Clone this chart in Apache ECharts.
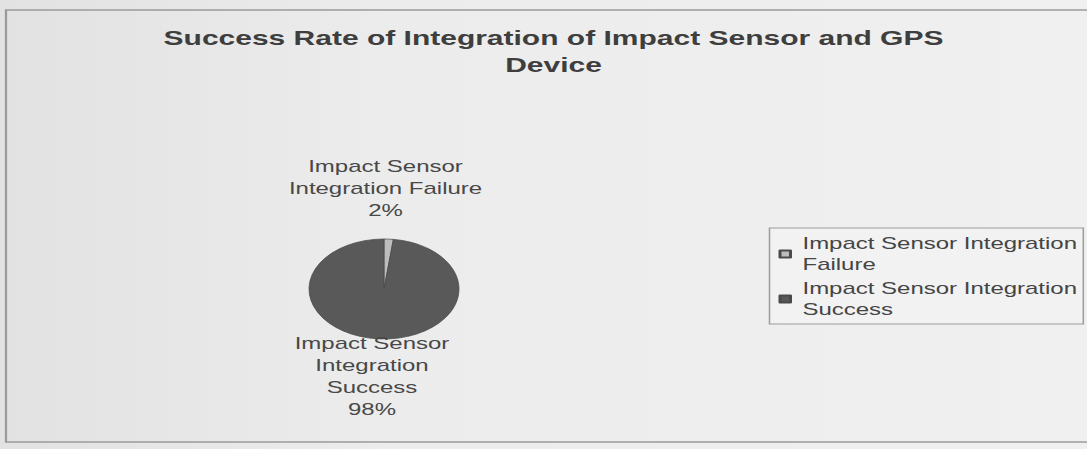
<!DOCTYPE html>
<html>
<head>
<meta charset="utf-8">
<script src="https://cdn.jsdelivr.net/npm/echarts@6/dist/echarts.min.js"></script>
<style>
html, body { margin: 0; padding: 0; overflow: hidden; background: #eeeeee; }
/* the scan is stretched sideways, so the chart is drawn narrow and widened */
#chart { width: 725px; height: 449px; transform: scaleX(1.5); transform-origin: 0 0; }
</style>
</head>
<body>
<div id="chart"></div>
<script>
const categories = ['Impact Sensor Integration Failure', 'Impact Sensor Integration Success']
const shares = [2, 98]
const labelNames = ['Impact Sensor\nIntegration Failure', 'Impact Sensor\nIntegration\nSuccess']
const legendNames = ['Impact Sensor Integration\nFailure', 'Impact Sensor Integration\nSuccess']

const cx = 256
const cy = 289
const r = 50

const chart = echarts.init(document.getElementById('chart'), null, { renderer: 'svg' })

const option = {
  backgroundColor: {
    type: 'linear', x: 0, y: 0, x2: 1, y2: 0,
    colorStops: [{ offset: 0, color: '#e2e2e2' }, { offset: 0.35, color: '#ececec' }, { offset: 1, color: '#f0f0f0' }]
  },
  color: ['#bdbdbd', '#595959'],
  title: {
    text: 'Success Rate of Integration of Impact Sensor and GPS\nDevice',
    left: 364,
    top: 19,
    textAlign: 'center',
    textStyle: {
      fontFamily: 'Liberation Sans',
      fontWeight: 'bold',
      fontSize: 20,
      lineHeight: 27,
      color: '#3e3e3e'
    }
  },
  graphic: [{
    type: 'rect',
    shape: { x: 4, y: 10, width: 760, height: 432 },
    style: { fill: 'none', stroke: '#9a9a9a', lineWidth: 1.5 },
    silent: true
  }],
  legend: {
    orient: 'vertical',
    left: 513,
    top: 228,
    width: 204,
    padding: [5, 4, 4, 6],
    itemGap: 3,
    itemWidth: 7,
    itemHeight: 7,
    icon: 'rect',
    borderColor: '#9c9c9c',
    borderWidth: 1,
    backgroundColor: '#f2f2f2',
    formatter: name => legendNames[categories.indexOf(name)],
    textStyle: {
      fontFamily: 'Liberation Sans',
      fontSize: 16,
      lineHeight: 21,
      color: '#454545',
      padding: [0, 0, 0, 3]
    },
    data: categories
  },
  series: [{
    type: 'pie',
    center: [cx, cy],
    radius: r,
    startAngle: 90,
    clockwise: true,
    silent: true,
    itemStyle: { borderColor: '#4a4a4a', borderWidth: 0.6 },
    label: {
      show: true,
      position: 'outside',
      formatter: p => labelNames[p.dataIndex] + '\n' + p.value + '%',
      fontFamily: 'Liberation Sans',
      fontSize: 16,
      lineHeight: 22,
      color: '#484848',
      align: 'center'
    },
    labelLine: { show: false },
    labelLayout: p => p.dataIndex === 0
      ? { x: cx + 1, y: cy - r - 83, align: 'center', verticalAlign: 'top' }
      : { x: cx - 8, y: cy + r - 6, align: 'center', verticalAlign: 'top' },
    data: categories.map((c, i) => ({ name: c, value: shares[i] }))
  }]
}
chart.setOption(option)
</script>
</body>
</html>
